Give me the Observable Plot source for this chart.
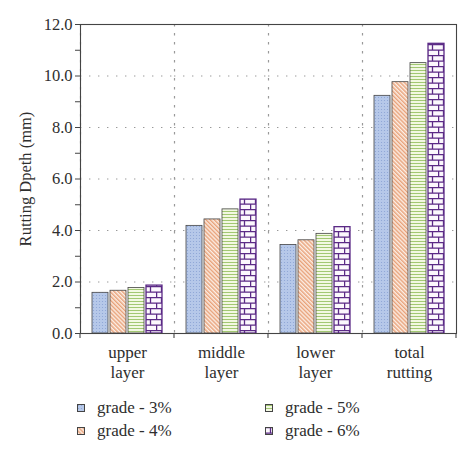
<!DOCTYPE html>
<html>
<head>
<meta charset="utf-8">
<script src="https://cdn.jsdelivr.net/npm/d3@7"></script>
<script src="https://cdn.jsdelivr.net/npm/@observablehq/plot@0.6"></script>
<style>
  body { margin: 0; background: #fff; font-family: "Liberation Serif", "DejaVu Serif", serif; }
  #chart svg { display: block; }
  #legend {
    display: grid;
    grid-template-columns: 188px 160px;
    margin-left: 77px;
    padding-top: 6px;
    font-size: 17px;
    line-height: 23px;
    color: #2e2e2e;
  }
  #legend span { display: flex; align-items: center; gap: 12px; }
  #legend svg { display: block; }
</style>
</head>
<body>
<div id="chart"></div>
<div id="legend"></div>
<script>
const categories = ["upper layer", "middle layer", "lower layer", "total rutting"];
const grades = ["grade - 3%", "grade - 4%", "grade - 5%", "grade - 6%"];
const grade3 = [1.58, 4.18, 3.44, 9.23];
const grade4 = [1.66, 4.43, 3.62, 9.76];
const grade5 = [1.77, 4.82, 3.87, 10.5];
const grade6 = [1.86, 5.2, 4.13, 11.25];
const majorTicks = [0, 2, 4, 6, 8, 10, 12];
const minorTicks = [1, 3, 5, 7, 9, 11];
const gridTicks = [2, 4, 6, 8, 10];

const FILLS = ["url(#p3)", "url(#p4)", "url(#p5)", "url(#p6)"];
const INK = "#444";
const PURPLE = "#5b2a86";

const series = [grade3, grade4, grade5, grade6];
const rows = [];
categories.forEach((c, i) => {
  grades.forEach((g, j) => rows.push({category: c, grade: g, value: series[j][i]}));
});

// hatch patterns, shared by the bars and the legend swatches
const PATTERN_DEFS = `
  <pattern id="p3" width="3" height="3" patternUnits="userSpaceOnUse">
    <rect width="3" height="3" fill="#b6c8e9"/>
    <circle cx="1.5" cy="1.5" r="0.55" fill="#8aa3d4"/>
  </pattern>
  <pattern id="p4" width="2.9" height="2.9" patternUnits="userSpaceOnUse" patternTransform="rotate(-45)">
    <rect width="2.9" height="2.9" fill="#fcefe6"/>
    <line x1="0.8" y1="0" x2="0.8" y2="2.9" stroke="#e0804a" stroke-width="1"/>
  </pattern>
  <pattern id="p5" width="4" height="3" patternUnits="userSpaceOnUse">
    <rect width="4" height="3" fill="#f6fbe8"/>
    <line x1="0" y1="1.5" x2="4" y2="1.5" stroke="#a2c872" stroke-width="1.1"/>
  </pattern>
  <pattern id="p6" width="11" height="11" patternUnits="userSpaceOnUse">
    <rect width="11" height="11" fill="#fcf8fd"/>
    <path d="M0,0.6H11M0,6.1H11M5.5,0.6V6.1M0.6,6.1V11.6" stroke="${PURPLE}" stroke-width="1.3" fill="none"/>
  </pattern>`;

const plot = Plot.plot({
  width: 474,
  height: 390,
  marginTop: 24,
  marginBottom: 57,
  marginLeft: 78,
  marginRight: 17,
  style: {fontFamily: '"Liberation Serif", serif', fontSize: 16, color: "#2e2e2e", background: "#fff"},
  fx: {domain: categories, padding: 0, label: null},
  x: {domain: grades, paddingInner: 0.13, paddingOuter: 0.63, axis: null},
  y: {domain: [0, 12]},
  color: {domain: grades, range: FILLS},
  marks: [
    Plot.gridY(gridTicks, {stroke: "#999", strokeOpacity: 1, strokeDasharray: "1.4 7.6", strokeWidth: 1.2}),
    Plot.frame({anchor: "left", stroke: "#999", strokeDasharray: "1.4 7.6", strokeWidth: 1.2}),
    Plot.barY(rows, {
      fx: "category",
      x: "grade",
      y: "value",
      fill: "grade",
      stroke: d => d.grade === grades[3] ? PURPLE : INK,
      strokeWidth: d => d.grade === grades[3] ? 1.3 : 0.8
    }),
    Plot.frame({facet: "super", stroke: INK, strokeWidth: 1.1}),
    Plot.axisY(majorTicks, {
      tickFormat: d => d.toFixed(1),
      tickSize: 5,
      tickPadding: 3,
      fontSize: 16.5,
      stroke: INK,
      label: "Rutting Dpeth (mm)",
      labelAnchor: "center",
      labelArrow: "none",
      labelOffset: 61
    }),
    Plot.axisY(minorTicks, {tickFormat: () => "", tickSize: 5, stroke: INK, label: null}),
    Plot.axisFx({
      anchor: "bottom",
      tickSize: 0,
      tickPadding: 10,
      fontSize: 17,
      lineHeight: 1.2,
      tickFormat: d => d.replace(" ", "\n"),
      label: null
    })
  ]
});

d3.select(plot).insert("defs", ":first-child").html(PATTERN_DEFS);

// outward ticks at the category boundaries, placed from the fx and y scales
const fx = plot.scale("fx");
const yBottom = plot.scale("y").range[0];
const edges = categories.map(c => fx.apply(c)).concat(fx.apply(categories[categories.length - 1]) + fx.bandwidth);
d3.select(plot).append("g")
  .attr("stroke", INK)
  .attr("stroke-width", 1.1)
  .selectAll("line")
  .data(edges)
  .join("line")
  .attr("x1", d => d).attr("x2", d => d)
  .attr("y1", yBottom).attr("y2", yBottom + 5);

document.getElementById("chart").append(plot);

// legend: two columns, 3% / 4% on the left and 5% / 6% on the right
const legend = d3.select("#legend");
[0, 2, 1, 3].forEach(j => {
  const item = legend.append("span");
  const sw = item.append("svg").attr("width", 8).attr("height", 8);
  sw.append("rect")
    .attr("x", 0.5).attr("y", 0.5).attr("width", 7).attr("height", 7)
    .attr("fill", FILLS[j]).attr("stroke", INK).attr("stroke-width", 1);
  item.append("span").text(grades[j]);
});
</script>
</body>
</html>
